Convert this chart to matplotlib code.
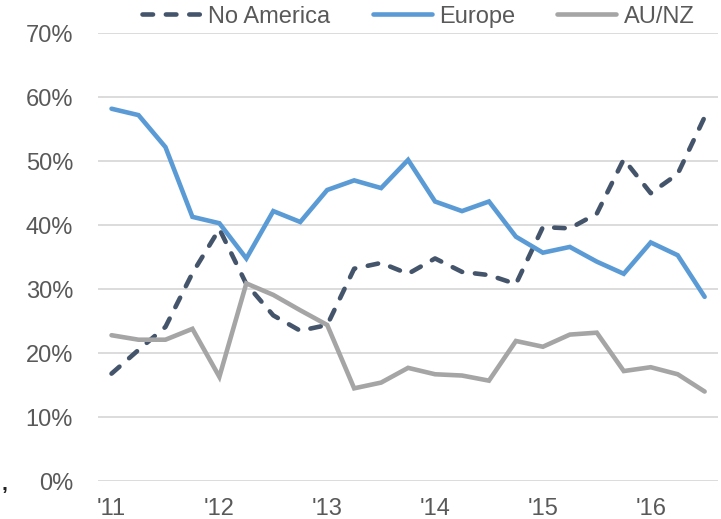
import matplotlib.pyplot as plt
from matplotlib.ticker import PercentFormatter

plt.rcParams['font.family'] = ['Liberation Sans', 'DejaVu Sans']

# quarterly points, Q1 2011 .. Q3 2016
year_labels = ["'11", "'12", "'13", "'14", "'15", "'16"]
no_america = [16.8, 20.5, 24.1, 32.5, 39.4, 30.8, 25.9, 23.5, 24.4, 33.2, 34.1, 32.4,
              34.8, 32.7, 32.2, 30.8, 39.7, 39.5, 41.8, 50.3, 45.0, 48.0, 56.9]
europe = [58.2, 57.2, 52.2, 41.3, 40.3, 34.8, 42.2, 40.5, 45.5, 47.0, 45.8, 50.2,
          43.7, 42.2, 43.7, 38.2, 35.7, 36.6, 34.3, 32.4, 37.3, 35.3, 28.8]
au_nz = [22.8, 22.1, 22.1, 23.8, 16.3, 30.9, 29.1, 26.7, 24.4, 14.5, 15.4, 17.7,
         16.7, 16.5, 15.7, 21.9, 21.0, 22.9, 23.2, 17.2, 17.8, 16.7, 14.0]

x = list(range(len(europe)))

fig = plt.figure(figsize=(7.21, 5.19), dpi=100)
ax = fig.add_axes([0.136, 0.073, 0.86, 0.863])

lw = 3.3
ax.plot(x, no_america, color='#44546A', lw=lw, ls=(0, (2.3, 2.8)),
        dash_capstyle='round', label='No America')
ax.plot(x, europe, color='#5B9BD5', lw=lw, solid_capstyle='round',
        solid_joinstyle='miter', label='Europe')
ax.plot(x, au_nz, color='#A5A5A5', lw=lw, solid_capstyle='round',
        solid_joinstyle='miter', label='AU/NZ')

ax.set_xlim(-0.5, len(x) - 0.5)
ax.set_ylim(0, 70)
ax.set_yticks(range(0, 71, 10))
ax.yaxis.set_major_formatter(PercentFormatter(decimals=0))
ax.set_xticks(range(0, len(x), 4))
ax.set_xticklabels(year_labels)

ax.grid(axis='y', color='#D9D9D9', lw=1.3)
ax.set_axisbelow(True)
for s in ax.spines.values():
    s.set_visible(False)
ax.tick_params(length=0, labelsize=17, colors='#595959')
ax.tick_params(axis='y', pad=18)
ax.tick_params(axis='x', pad=12)

fig.legend(loc='center', bbox_to_anchor=(0.58, 0.968), ncol=3, frameon=False,
           fontsize=17, labelcolor='#595959', handlelength=2.5, handletextpad=0.3,
           columnspacing=1.8)

# small stray mark at the lower left edge of the original
fig.text(0.002, 0.055, ',', fontsize=15, color='#222222', fontweight='bold')

fig.savefig('out.png', dpi=100)
